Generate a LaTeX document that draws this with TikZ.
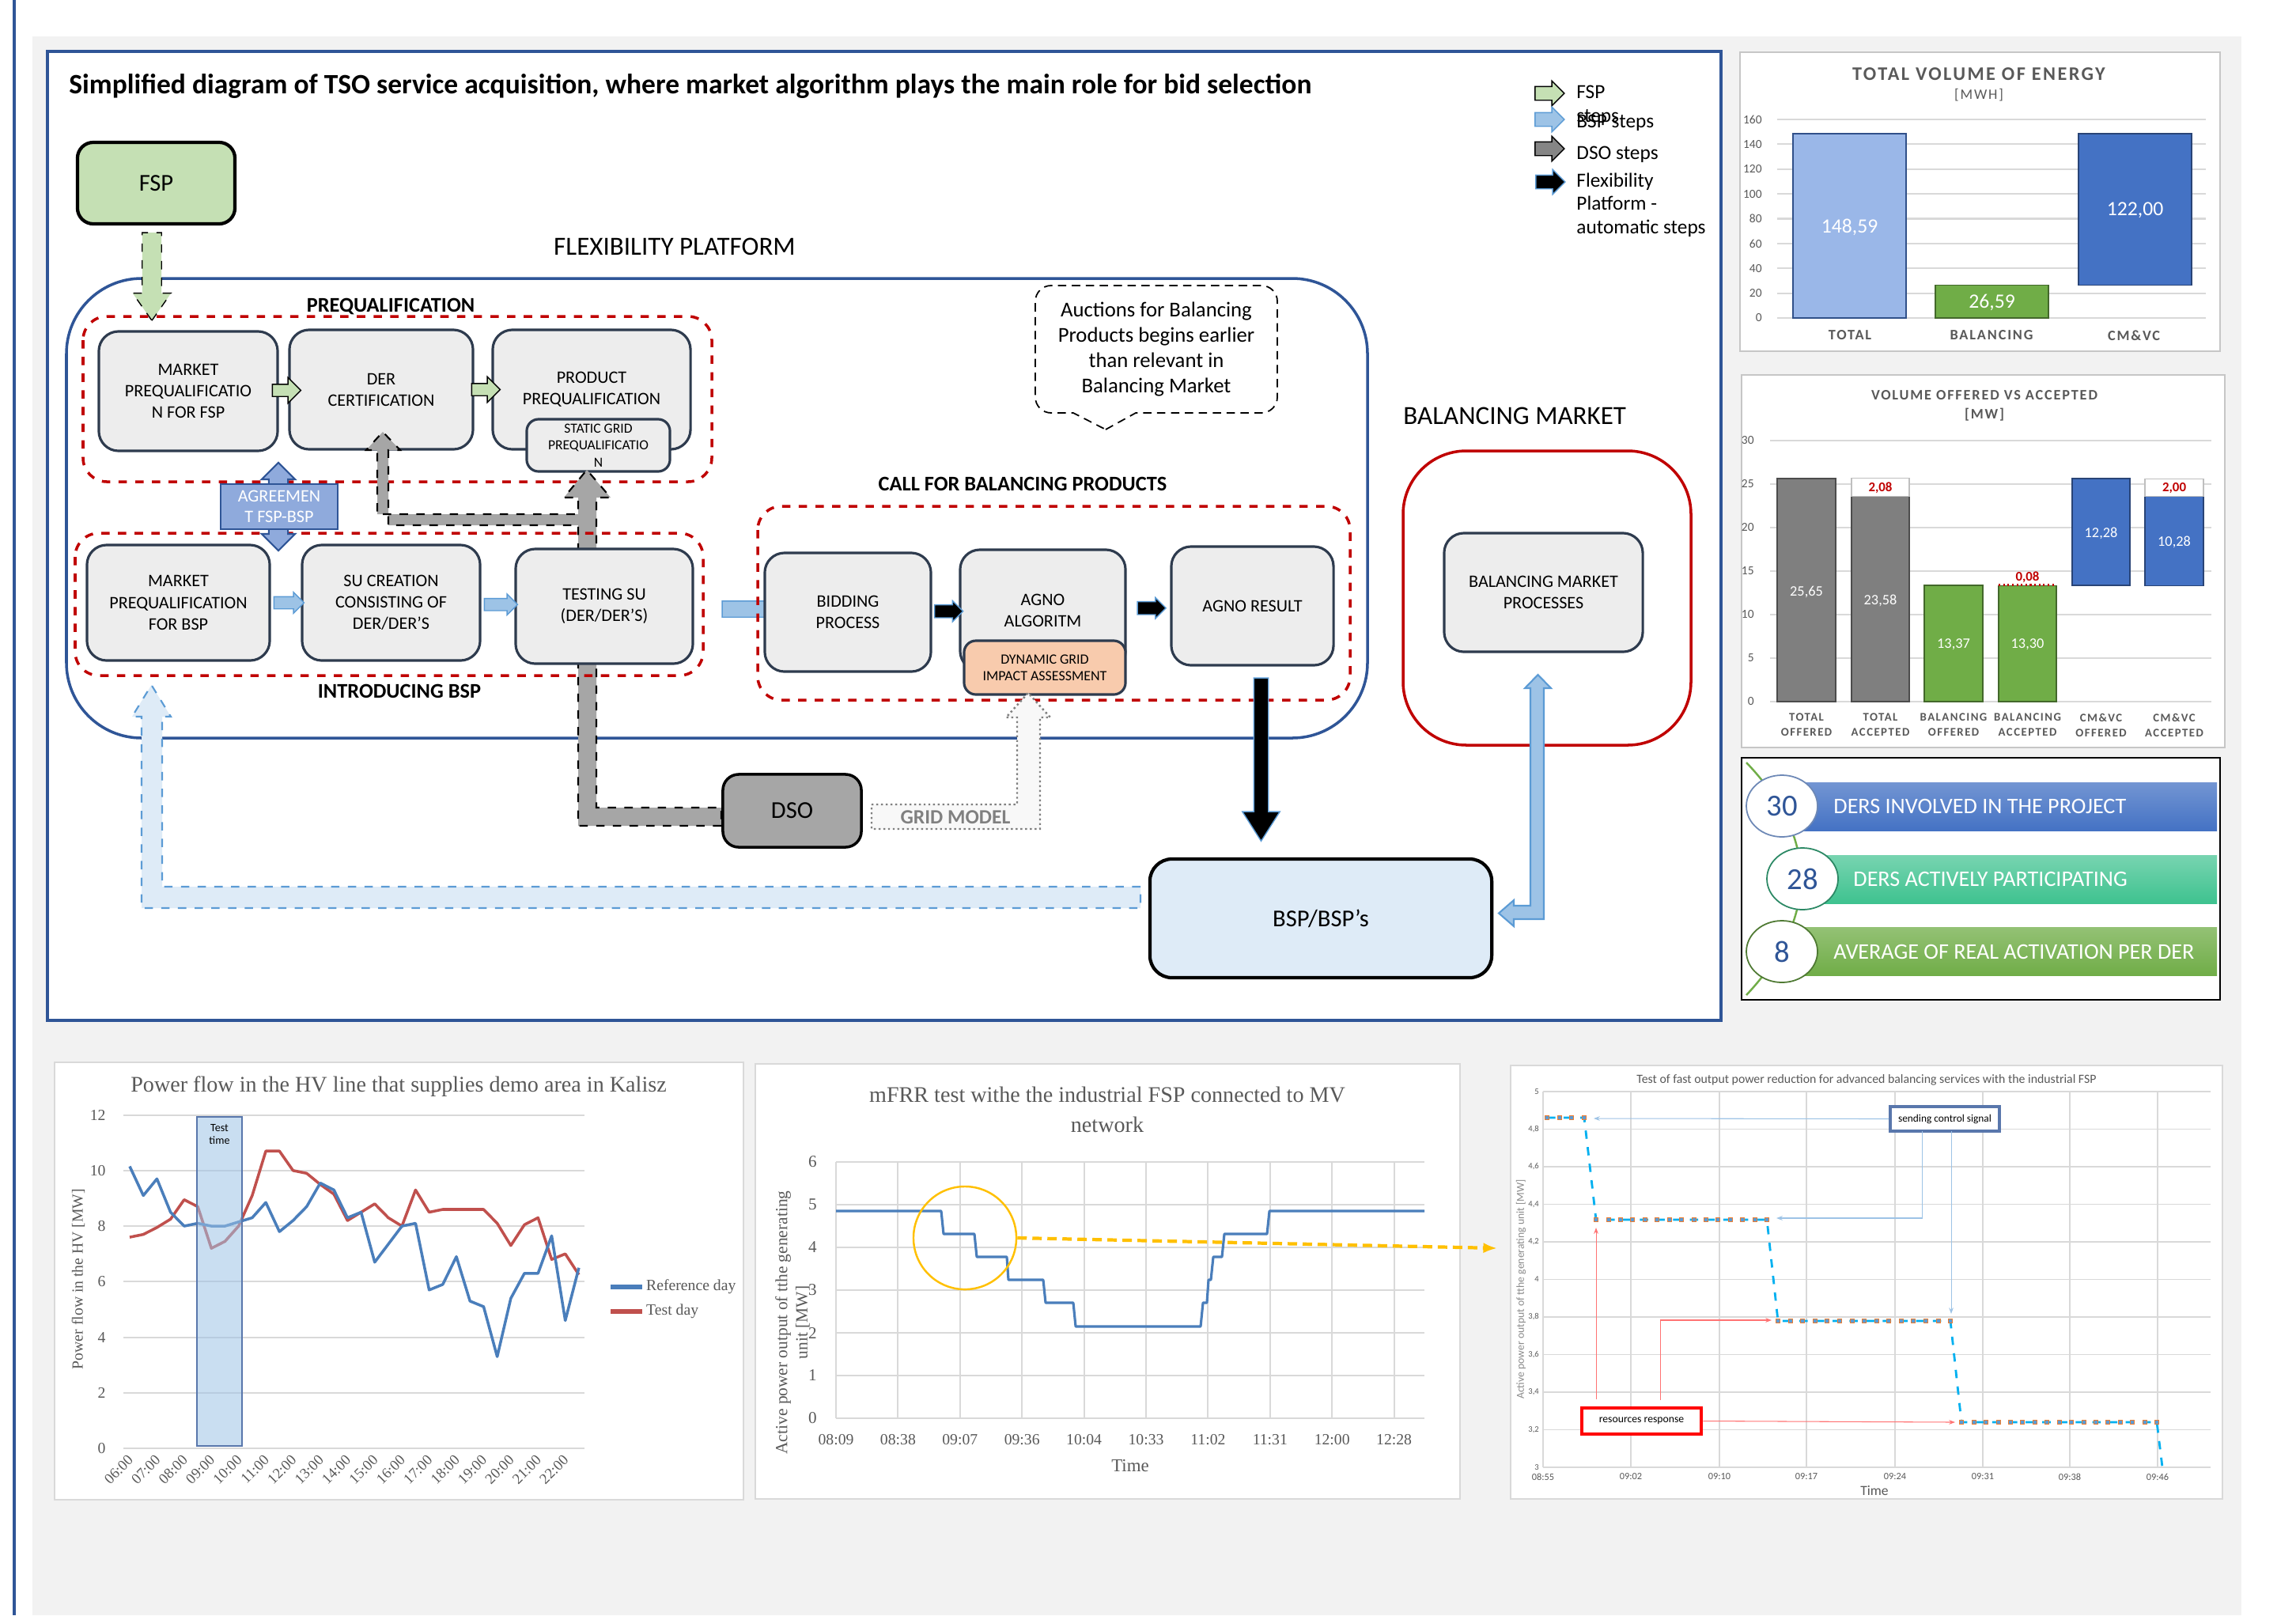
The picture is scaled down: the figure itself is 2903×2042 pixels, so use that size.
\documentclass[tikz,border=0pt]{standalone}
\usepackage{fontspec}
\setmainfont{Carlito}
\newfontfamily\chartserif{Liberation Serif}
\newfontfamily\spacedcaps[LetterSpace=10]{Carlito}
\usetikzlibrary{arrows.meta, shapes.arrows, calc, positioning}

\definecolor{framblue}{HTML}{2F5597}
\definecolor{boxline}{HTML}{2E3B4E}
\definecolor{boxfill}{HTML}{EDEDED}
\definecolor{dashred}{HTML}{C00000}
\definecolor{fspgreen}{HTML}{C5E0B4}
\definecolor{bspfill}{HTML}{DEEBF7}
\definecolor{bsparrow}{HTML}{9DC3E6}
\definecolor{bspedge}{HTML}{5B9BD5}
\definecolor{agreefill}{HTML}{8FAADC}
\definecolor{dsogray}{HTML}{A6A6A6}
\definecolor{dynfill}{HTML}{F8CBAD}
\definecolor{panelgray}{HTML}{F2F2F2}
\definecolor{gridline}{HTML}{D9D9D9}
\definecolor{charttext}{HTML}{595959}
\definecolor{barblue}{HTML}{4472C4}
\definecolor{barlight}{HTML}{9AB7E8}
\definecolor{bargreen}{HTML}{70AD47}
\definecolor{bargray}{HTML}{7F7F7F}
\definecolor{barteal}{HTML}{3EC28F}
\definecolor{refblue}{HTML}{4A7EBB}
\definecolor{testred}{HTML}{C0504D}
\definecolor{circleorange}{HTML}{FFC000}
\definecolor{signalcyan}{HTML}{00B0F0}
\definecolor{markerblue}{HTML}{5B9BD5}
\definecolor{markerorange}{HTML}{ED7D31}

\begin{document}
\begin{tikzpicture}[
    x=0.01cm, y=-0.01cm,
    procbox/.style={draw=boxline, fill=boxfill, line width=0.9pt, rounded corners=0.25cm,
        align=center, inner sep=1pt, font=\fontsize{6.3}{7.7}\selectfont},
    groupbox/.style={draw=dashred, dashed, line width=1pt, rounded corners=0.3cm},
    grouplabel/.style={font=\bfseries\fontsize{7.5}{9}\selectfont},
    actorbox/.style={draw=black, line width=1.2pt, rounded corners=0.2cm, font=\fontsize{8.7}{10}\selectfont},
    blockarrow/.style={single arrow, single arrow head indent=0pt, line width=0.4pt},
    fspstep/.style={blockarrow, draw=black, fill=fspgreen},
    bspstep/.style={blockarrow, draw=bspedge, fill=bsparrow},
    autostep/.style={blockarrow, draw=bspedge, fill=black},
    dsostep/.style={blockarrow, draw=black, fill=dsogray!80!black},
    legendtext/.style={anchor=west, align=left, font=\fontsize{7.2}{8.4}\selectfont},
    chartframe/.style={draw=gray!45, line width=0.8pt, fill=white},
    gridrule/.style={draw=gridline, line width=0.6pt},
    ticklabel/.style={anchor=east, text=charttext, font=\fontsize{4.4}{5}\selectfont},
    barvalue/.style={text=white, font=\fontsize{5.2}{6}\selectfont},
    barcat/.style={text=charttext, align=center, font=\spacedcaps\bfseries\fontsize{4.2}{5.4}\selectfont},
    serifnote/.style={text=charttext, font=\chartserif\fontsize{5.6}{6.5}\selectfont}
    ]
    \useasboundingbox (0,0) rectangle (2903,2042);
    \fill[panelgray] (41,46) rectangle (2834,2042);
    \draw[framblue, line width=1pt] (18,0) -- (18,2042);
    \draw[framblue, line width=0.9pt, fill=white] (60,65) rectangle (2176,1290);

    % Title
    \node[anchor=west, font=\bfseries\fontsize{10.1}{12}\selectfont] (title) at (75,109)
        {Simplified diagram of TSO service acquisition, where market algorithm plays the main role for bid selection};

    % Flexibility platform
    \node[actorbox, fill=fspgreen, minimum width=1.99cm, minimum height=1.03cm] (fsp) at (197.5,231.5) {FSP};
    \node[font=\fontsize{9.4}{11}\selectfont] (flexlabel) at (853,312) {FLEXIBILITY PLATFORM};
    \draw[framblue, line width=1pt, rounded corners=0.95cm] (84,352) rectangle (1729,933);
    \node[fspstep, dashed, inner sep=0.115cm, minimum height=1.11cm, single arrow head extend=0.12cm,
        single arrow tip angle=70, shape border rotate=270] (fspdown) at (192,341) {};

    % Prequalification
    \draw[groupbox] (105,400) rectangle (900,609);
    \node[grouplabel] (preqlabel) at (494,387) {PREQUALIFICATION};
    \node[procbox, minimum width=2.26cm, minimum height=1.51cm] (mpfsp) at (238,494.5) {MARKET\\PREQUALIFICATIO\\N FOR FSP};
    \node[procbox, minimum width=2.32cm, minimum height=1.51cm] (dercert) at (482,492.5) {DER\\CERTIFICATION};
    \node[procbox, minimum width=2.50cm, minimum height=1.51cm] (prodpreq) at (748,492.5) {PRODUCT\\PREQUALIFICATION};
    \node[procbox, rounded corners=0.15cm, minimum width=1.81cm, minimum height=0.66cm,
        font=\fontsize{5}{6.1}\selectfont] (staticgrid) at (756.5,563) {STATIC GRID\\PREQUALIFICATIO\\N};
    \node[fspstep, inner sep=0.07cm, minimum height=0.36cm, single arrow head extend=0.085cm]
        (fspstep1) at ($(mpfsp.east)!0.5!(dercert.west)$) {};
    \node[fspstep, inner sep=0.07cm, minimum height=0.36cm, single arrow head extend=0.085cm]
        (fspstep2) at ($(dercert.east)!0.5!(prodpreq.west)$) {};

    % DSO steps
    \draw[fill=dsogray, draw=black, dashed, line width=0.6pt]
        (912,1044) -- (731,1044) -- (731,664) -- (491,664) -- (491,569) -- (506,569) -- (484,546)
        -- (463,569) -- (477,569) -- (477,650) -- (731,650) -- (731,629) -- (713,629) -- (742,594)
        -- (772,629) -- (754,629) -- (754,1021) -- (912,1021) -- cycle;

    % Introducing BSP
    \draw[groupbox] (95,674) rectangle (889,854);
    \node[grouplabel] (introlabel) at (505,874) {INTRODUCING BSP};
    \node[procbox, minimum width=2.31cm, minimum height=1.46cm] (mpbsp) at (225.5,762) {MARKET\\PREQUALIFICATION\\FOR BSP};
    \node[procbox, minimum width=2.25cm, minimum height=1.46cm] (sucreate) at (494.5,762) {SU CREATION\\CONSISTING OF\\DER/DER’S};
    \node[procbox, minimum width=2.24cm, minimum height=1.45cm] (testsu) at (764,766.5) {TESTING SU\\(DER/DER’S)};
    \node[bspstep, inner sep=0.07cm, minimum height=0.38cm, single arrow head extend=0.055cm]
        (bspstep1) at ($(mpbsp.east)!0.5!(sucreate.west)$) {};
    \node[bspstep, inner sep=0.07cm, minimum height=0.42cm, single arrow head extend=0.055cm]
        (bspstep2) at ($(sucreate.east)!0.5!(testsu.west)$) {};
    \node[bspstep, inner sep=0.095cm, minimum height=0.82cm, single arrow head extend=0.105cm]
        (tocall) at (949,770) {};

    % Agreement
    \node[double arrow, draw=framblue, fill=agreefill, line width=0.6pt, inner sep=0.11cm, minimum height=1.11cm,
        double arrow head extend=0.09cm, double arrow head indent=0pt,
        shape border rotate=90] (agreearrow) at (352,640.5) {};
    \node[draw=framblue, fill=agreefill, line width=0.8pt, text=white, align=center, minimum width=1.48cm,
        minimum height=0.57cm, inner sep=1pt, font=\fontsize{6.3}{7.4}\selectfont] (agreement) at (353,640.5) {AGREEMEN\\T FSP-BSP};

    % Call for balancing products
    \draw[groupbox] (958,640) rectangle (1707,885);
    \node[grouplabel] (calllabel) at (1293,612) {CALL FOR BALANCING PRODUCTS};
    \node[procbox, minimum width=2.10cm, minimum height=1.50cm] (bidding) at (1072,774) {BIDDING\\PROCESS};
    \node[procbox, minimum width=2.09cm, minimum height=1.53cm] (agno) at (1318.5,771.5) {AGNO\\ALGORITM};
    \node[procbox, fill=dynfill, rounded corners=0.15cm, minimum width=2.04cm, minimum height=0.68cm,
        font=\fontsize{5.1}{6}\selectfont] (dyngrid) at (1321,844) {DYNAMIC GRID\\IMPACT ASSESSMENT};
    \node[procbox, minimum width=2.05cm, minimum height=1.50cm] (agnores) at (1583.5,766) {AGNO RESULT};
    \node[autostep, inner sep=0.075cm, minimum height=0.36cm, single arrow head extend=0.05cm]
        (auto1) at ($(bidding.east)!0.5!(agno.west)$) {};
    \node[autostep, inner sep=0.075cm, minimum height=0.36cm, single arrow head extend=0.05cm]
        (auto2) at ($(agno.east)!0.5!(agnores.west)$) {};

    % Auction note
    \draw[densely dashed, line width=0.5pt] (1398,543) -- (1436,522) [rounded corners=0.2cm] -- (1615,522)
        -- (1615,361) -- (1309,361) -- (1309,522) [sharp corners] -- (1357,522) -- cycle;
    \node[align=center, font=\fontsize{7.6}{9.1}\selectfont] (auctionnote) at (1462,442)
        {Auctions for Balancing\\Products begins earlier\\than relevant in\\Balancing Market};

    % Balancing market
    \node[anchor=west, font=\fontsize{9.4}{11}\selectfont] (ballabel) at (1762,526) {BALANCING MARKET};
    \draw[dashred, line width=1pt, rounded corners=0.8cm] (1774,570) rectangle (2138,942);
    \node[procbox, minimum width=2.51cm, minimum height=1.50cm] (balproc) at (1951.5,749) {BALANCING MARKET\\PROCESSES};

    % DSO, grid model, BSP
    \node[actorbox, fill=dsogray, line width=1pt, minimum width=1.75cm, minimum height=0.92cm] (dso) at (1001.5,1025) {DSO};
    \draw[fill=panelgray!50, draw=gray, densely dotted, line width=0.7pt]
        (1102,1017) -- (1286,1017) -- (1286,907) -- (1272,907) -- (1300,876) -- (1328,907)
        -- (1315,907) -- (1315,1048) -- (1102,1048) -- cycle;
    \node[text=gray, font=\bfseries\fontsize{7.3}{8}\selectfont] (gridmodel) at (1208,1033) {GRID MODEL};
    \node[actorbox, fill=bspfill, rounded corners=0.28cm, minimum width=4.32cm, minimum height=1.50cm] (bsp) at (1670,1161) {BSP/BSP’s};
    \node[autostep, inner sep=0.085cm, minimum height=2.06cm, single arrow head extend=0.145cm,
        single arrow tip angle=65, shape border rotate=270] (resultdown) at (1594.5,953) {};
    \draw[fill=bspfill, draw=bspedge, dashed, line width=0.6pt]
        (1442,1121) -- (205,1121) -- (205,906) -- (216,906) -- (191.5,866) -- (167,906)
        -- (179,906) -- (179,1148) -- (1442,1148) -- cycle;
    \draw[fill=bsparrow, draw=bspedge, line width=0.6pt]
        (1952,1162) -- (1914,1162) -- (1914,1171) -- (1895,1154.5) -- (1914,1138) -- (1914,1145)
        -- (1935,1145) -- (1935,870) -- (1928,870) -- (1944.5,853) -- (1961,870) -- (1952,870) -- cycle;

    % Legend
    \node[fspstep, inner sep=0.08cm, minimum height=0.37cm, single arrow head extend=0.07cm] (legfsp) at (1955,118) {};
    \node[bspstep, inner sep=0.08cm, minimum height=0.37cm, single arrow head extend=0.07cm] (legbsp) at (1955,151) {};
    \node[dsostep, inner sep=0.08cm, minimum height=0.37cm, single arrow head extend=0.07cm] (legdso) at (1955,188) {};
    \node[autostep, inner sep=0.08cm, minimum height=0.37cm, single arrow head extend=0.07cm] (legauto) at (1956,230) {};
    \node[legendtext] (legfsptext) at (1981,133.5) {FSP\\steps};
    \node[legendtext] (legbsptext) at (1981,155) {BSP steps};
    \node[legendtext] (legdsotext) at (1981,195) {DSO steps};
    \node[legendtext] (legautotext) at (1981,259) {Flexibility\\Platform -\\automatic steps};

    % Total volume of energy
    \draw[chartframe] (2200,66) rectangle (2807,444);
    \node[text=charttext, font=\spacedcaps\bfseries\fontsize{6.9}{8}\selectfont] (energytitle) at (2502,94) {TOTAL VOLUME OF ENERGY};
    \node[text=charttext, font=\spacedcaps\fontsize{5.2}{6}\selectfont] (energyunit) at (2502,120) {[MWH]};
    \foreach \v in {0,20,...,160} {
        \draw[gridrule] (2247,{402-\v*1.569}) -- (2789,{402-\v*1.569});
        \node[ticklabel] at (2240,{402-\v*1.569}) {\v};
    }
    \fill[barlight, draw=barblue!70!black, line width=0.4pt] (2267,402) rectangle (2410,168.9);
    \fill[bargreen, draw=bargreen!60!black, line width=0.4pt] (2447,402) rectangle (2590,360.3);
    \fill[barblue, draw=barblue!60!black, line width=0.4pt] (2628,360.3) rectangle (2771,168.9);
    \node[barvalue, font=\fontsize{7.3}{8}\selectfont] at (2338.5,287) {148,59};
    \node[barvalue, font=\fontsize{7.3}{8}\selectfont] at (2518.5,382) {26,59};
    \node[barvalue, font=\fontsize{7.3}{8}\selectfont] at (2699.5,266) {122,00};
    \node[barcat, font=\spacedcaps\bfseries\fontsize{5.2}{6}\selectfont] at (2339,424) {TOTAL};
    \node[barcat, font=\spacedcaps\bfseries\fontsize{5.2}{6}\selectfont] at (2518,424) {BALANCING};
    \node[barcat, font=\spacedcaps\bfseries\fontsize{5.2}{6}\selectfont] at (2698,424) {CM\&VC};

    % Volume offered vs accepted
    \draw[chartframe] (2202,474) rectangle (2813,945);
    \node[text=charttext, font=\spacedcaps\bfseries\fontsize{5.2}{6.5}\selectfont] (offertitle) at (2509,500) {VOLUME OFFERED VS ACCEPTED};
    \node[text=charttext, font=\spacedcaps\bfseries\fontsize{5.2}{6.5}\selectfont] (offerunit) at (2509,524) {[MW]};
    \foreach \v in {0,5,...,30} {
        \draw[gridrule] (2238,{887-\v*11}) -- (2796,{887-\v*11});
        \node[ticklabel] at (2230,{887-\v*11}) {\v};
    }
    \fill[bargray, draw=bargray!60!black, line width=0.4pt] (2247,887) rectangle (2321,604.9);
    \fill[bargray, draw=bargray!60!black, line width=0.4pt] (2341,887) rectangle (2414,627.6);
    \draw[fill=white, draw=gray!50, line width=0.4pt] (2341,627.6) rectangle (2414,604.7);
    \fill[bargreen, draw=bargreen!60!black, line width=0.4pt] (2433,887) rectangle (2507,740);
    \fill[bargreen, draw=bargreen!60!black, line width=0.4pt] (2527,887) rectangle (2600,740.7);
    \draw[dashred, densely dotted, line width=0.6pt] (2527,739.5) -- (2600,739.5);
    \fill[barblue, draw=barblue!60!black, line width=0.4pt] (2620,740) rectangle (2693,604.9);
    \fill[barblue, draw=barblue!60!black, line width=0.4pt] (2712,740.7) rectangle (2786,627.6);
    \draw[fill=white, draw=gray!50, line width=0.4pt] (2712,627.6) rectangle (2786,605.6);
    \node[barvalue] at (2284,748) {25,65};
    \node[barvalue] at (2377.5,759) {23,58};
    \node[barvalue] at (2470,815) {13,37};
    \node[barvalue] at (2563.5,815) {13,30};
    \node[barvalue] at (2656.5,674) {12,28};
    \node[barvalue] at (2749,685) {10,28};
    \node[text=dashred, font=\bfseries\fontsize{4.8}{5}\selectfont] at (2377.5,617) {2,08};
    \node[text=dashred, font=\bfseries\fontsize{4.8}{5}\selectfont] at (2749,617) {2,00};
    \node[text=dashred, font=\bfseries\fontsize{4.8}{5}\selectfont, anchor=south, inner sep=0.5pt] at (2563.5,739) {0,08};
    \node[barcat] at (2284,916.5) {TOTAL\\OFFERED};
    \node[barcat] at (2377.5,916.5) {TOTAL\\ACCEPTED};
    \node[barcat] at (2470,916.5) {BALANCING\\OFFERED};
    \node[barcat] at (2563.5,916.5) {BALANCING\\ACCEPTED};
    \node[barcat] at (2656.5,916.5) {CM\&VC\\OFFERED};
    \node[barcat] at (2749,916.5) {CM\&VC\\ACCEPTED};

    % Project figures
    \draw[draw=black, line width=0.8pt, fill=white] (2202,958) rectangle (2807,1264);
    \draw[bargreen, line width=0.7pt] (2208,964) .. controls (2300,1060) and (2300,1160) .. (2208,1258);
    \shade[top color=barblue!75, bottom color=barblue] (2262,989) rectangle (2803,1050);
    \shade[top color=barteal!70, bottom color=barteal] (2290,1081) rectangle (2803,1142);
    \shade[top color=bargreen!75, bottom color=bargreen] (2262,1172) rectangle (2803,1233);
    \draw[fill=white, draw=framblue!70, line width=0.5pt] (2253,1019) ellipse [x radius=45, y radius=39];
    \draw[fill=white, draw=barteal!70!black, line width=0.5pt] (2279,1111) ellipse [x radius=45, y radius=39];
    \draw[fill=white, draw=bargreen!70!black, line width=0.5pt] (2253,1203) ellipse [x radius=45, y radius=39];
    \node[text=framblue, font=\fontsize{11}{12}\selectfont] (dersall) at (2253,1019) {30};
    \node[text=framblue, font=\fontsize{11}{12}\selectfont] (dersactive) at (2279,1111) {28};
    \node[text=framblue, font=\fontsize{11}{12}\selectfont] (dersavg) at (2253,1203) {8};
    \node[anchor=west, text=white, font=\fontsize{8}{9}\selectfont] at (2306,1019) {DERS INVOLVED IN THE PROJECT};
    \node[anchor=west, text=white, font=\fontsize{8}{9}\selectfont] at (2331,1111) {DERS ACTIVELY PARTICIPATING};
    \node[anchor=west, text=white, font=\fontsize{8}{9}\selectfont] at (2306,1203) {AVERAGE OF REAL ACTIVATION PER DER};

    % Power flow chart
    \draw[chartframe, draw=gridline] (69,1343) rectangle (940,1896);
    \node[text=charttext, font=\chartserif\fontsize{8}{9}\selectfont] (flowtitle) at (504,1374)
        {Power flow in the HV line that supplies demo area in Kalisz};
    \foreach \v in {0,2,...,12} {
        \draw[gridrule] (156,{1831-\v*35.1}) -- (739,{1831-\v*35.1});
        \node[anchor=east, serifnote] at (146,{1831-\v*35.1}) {\v};
    }
    \foreach \h [count=\k from 0] in {06,07,08,09,10,11,12,13,14,15,16,17,18,19,20,21,22}
        \node[serifnote, anchor=east, rotate=45, inner sep=1pt, font=\chartserif\fontsize{5.3}{6}\selectfont] at ({168+\k*34.4},1840) {\h:00};
    \node[serifnote, rotate=90] (flowaxis) at (99,1617) {Power flow in the HV [MW]};
    \begin{scope}[shift={(164,1831)}, x=0.172cm, y=0.351cm, line width=1pt, line join=round]
        \draw[testred] plot coordinates {(0,7.6) (1,7.7) (2,7.95) (3,8.25) (4,8.95) (5,8.7) (6,7.2) (7,7.45)
            (8,8.0) (9,9.1) (10,10.7) (11,10.7) (12,10.0) (13,9.9) (14,9.5) (15,9.15) (16,8.2) (17,8.5)
            (18,8.8) (19,8.3) (20,8.0) (21,9.3) (22,8.5) (23,8.6) (24,8.6) (25,8.6) (26,8.6) (27,8.1)
            (28,7.3) (29,8.05) (30,8.3) (31,6.8) (32,7.0) (33,6.25)};
        \draw[refblue] plot coordinates {(0,10.15) (1,9.1) (2,9.7) (3,8.5) (4,8.0) (5,8.1) (6,8.0) (7,8.0)
            (8,8.15) (9,8.3) (10,8.85) (11,7.8) (12,8.2) (13,8.7) (14,9.55) (15,9.3) (16,8.3) (17,8.5)
            (18,6.7) (19,7.35) (20,8.0) (21,8.1) (22,5.7) (23,5.9) (24,6.9) (25,5.3) (26,5.1) (27,3.3)
            (28,5.4) (29,6.3) (30,6.3) (31,7.65) (32,4.6) (33,6.5)};
    \end{scope}
    \draw[fill=bsparrow, fill opacity=0.55, draw=framblue!80, line width=0.5pt] (249,1412) rectangle (306,1828);
    \node[align=center, font=\fontsize{4}{4.6}\selectfont] (testtime) at (277.5,1434) {Test\\time};
    \draw[refblue, line width=1.6pt] (772,1627) -- (812,1627);
    \draw[testred, line width=1.6pt] (772,1658) -- (812,1658);
    \node[serifnote, anchor=west, inner sep=1pt] (legref) at (813,1627) {Reference day};
    \node[serifnote, anchor=west, inner sep=1pt] (legtest) at (813,1658) {Test day};

    % mFRR chart
    \draw[chartframe, draw=gridline] (955,1345) rectangle (1846,1895);
    \node[text=charttext, align=center, font=\chartserif\fontsize{8}{10.8}\selectfont] (mfrrtitle) at (1400,1403)
        {mFRR test withe the industrial FSP connected to MV\\network};
    \foreach \v in {0,...,6} {
        \draw[gridrule] (1057,{1793-\v*54}) -- (1801,{1793-\v*54});
        \node[anchor=east, serifnote, font=\chartserif\fontsize{6}{7}\selectfont] at (1045,{1793-\v*54}) {\v};
    }
    \foreach \t [count=\k from 0] in {08:09,08:38,09:07,09:36,10:04,10:33,11:02,11:31,12:00,12:28} {
        \draw[gridrule] ({1057+\k*78.4},1469) -- ({1057+\k*78.4},1793);
        \node[serifnote] at ({1057+\k*78.4},1820) {\t};
    }
    \node[serifnote, font=\chartserif\fontsize{6.5}{7}\selectfont] (mfrrtime) at (1429,1853) {Time};
    \node[serifnote, rotate=90, align=center, font=\chartserif\fontsize{6.1}{7.2}\selectfont] (mfrraxis) at (1002,1672)
        {Active power output of tthe generating\\unit [MW]};
    \draw[refblue, line width=0.9pt, line join=round] (1057,1531) -- (1190,1531) -- (1193,1560) -- (1232,1560)
        -- (1235,1589) -- (1273,1589) -- (1275,1618) -- (1319,1618) -- (1322,1647) -- (1357,1647)
        -- (1360,1677) -- (1518,1677) -- (1521,1647) -- (1526,1647) -- (1528,1618) -- (1531,1618)
        -- (1534,1589) -- (1545,1589) -- (1548,1560) -- (1602,1560) -- (1605,1531) -- (1801,1531);
    \node[draw=circleorange, circle, minimum size=1.3cm, line width=0.7pt] (focus) at (1220,1565) {};

    % Fast reduction chart
    \draw[chartframe, draw=gridline] (1910,1347) rectangle (2810,1895);
    \node[text=charttext, font=\fontsize{4.5}{5}\selectfont] (fasttitle) at (2360,1365)
        {Test of fast output power reduction for advanced balancing services with the industrial FSP};
    \foreach \v [count=\k from 0] in {5,{4,8},{4,6},{4,4},{4,2},4,{3,8},{3,6},{3,4},{3,2},3} {
        \draw[gridrule, line width=0.4pt] (1951,{1380+\k*47.5}) -- (2795,{1380+\k*47.5});
        \node[anchor=east, text=charttext, font=\fontsize{3}{3.5}\selectfont, inner sep=1pt] at (1950,{1380+\k*47.5}) {\v};
    }
    \foreach \t/\x in {08:55/1951,09:02/2062,09:10/2174,09:17/2284,09:24/2396,09:31/2507,09:38/2617,09:46/2728} {
        \draw[gridrule, line width=0.4pt] (\x,1380) -- (\x,1855);
        \node[text=charttext, font=\fontsize{3.5}{4}\selectfont] at (\x,1867) {\t};
    }
    \node[text=charttext, font=\fontsize{5}{6}\selectfont] (fasttime) at (2370,1884) {Time};
    \node[text=charttext!70, rotate=90, font=\fontsize{3.9}{4.5}\selectfont] (fastaxis) at (1923,1630)
        {Active power output of tthe generating unit [MW]};
    \draw[signalcyan, dashed, line width=0.8pt] (1956,1413) -- (2003,1413) -- (2018,1542) -- (2234,1542)
        -- (2248,1670) -- (2466,1670) -- (2480,1798) -- (2727,1798) -- (2734,1855);
    \foreach \x in {1956,1972,1987,2003}
        \draw[fill=markerblue, draw=markerorange, line width=0.2pt] (\x-2.5,1410.5) rectangle (\x+2.5,1415.5);
    \foreach \k in {0,...,14}
        \draw[fill=markerblue, draw=markerorange, line width=0.2pt] ({2018+\k*15.43-2.5},1539.5) rectangle ({2018+\k*15.43+2.5},1544.5);
    \foreach \k in {0,...,14}
        \draw[fill=markerblue, draw=markerorange, line width=0.2pt] ({2248+\k*15.57-2.5},1667.5) rectangle ({2248+\k*15.57+2.5},1672.5);
    \foreach \k in {0,...,16}
        \draw[fill=markerblue, draw=markerorange, line width=0.2pt] ({2480+\k*15.44-2.5},1795.5) rectangle ({2480+\k*15.44+2.5},1800.5);
    \node[draw=framblue!80, line width=1pt, fill=white, minimum width=1.38cm, minimum height=0.31cm, inner sep=1pt,
        font=\fontsize{3.8}{4.5}\selectfont] (signal) at (2459,1414.5) {sending control signal};
    \node[draw=red, line width=1.3pt, fill=white, minimum width=1.51cm, minimum height=0.33cm, inner sep=1pt,
        font=\fontsize{3.9}{4.5}\selectfont] (resources) at (2075.5,1796.5) {resources response};
    \begin{scope}[line width=0.3pt, -{Stealth[length=2.2pt, width=1.6pt]}]
        \draw[bspedge!60] (signal.west) -- (2015,1414);
        \draw[bspedge!60] (2430,1430) |- (2246,1540);
        \draw[bspedge!60] (2467,1430) -- (2467,1661);
        \draw[red!55] (2018,1769) -- (2018,1552);
        \draw[red!55] (2099,1770) |- (2240,1669);
        \draw[red!55] (resources.east) -- (2472,1798);
    \end{scope}

    % Zoom link
    \coordinate (zoomend) at (1893,1578);
    \draw[circleorange, line width=1.2pt, dash pattern=on 3.4pt off 2pt, -{Latex[length=5pt]}] (focus.east) -- (zoomend);
\end{tikzpicture}
\end{document}
